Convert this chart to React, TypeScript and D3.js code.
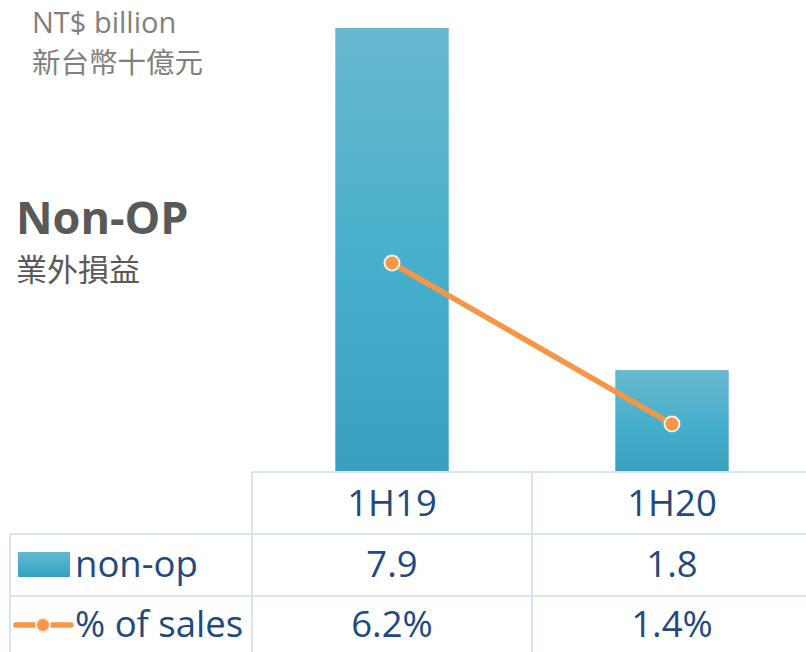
import React from "react";
import * as d3 from "d3";

const categories = ["1H19", "1H20"];
const nonOpValues = [7.9, 1.8];
const pctValues = [6.2, 1.4];
const nonOpLabels = ["7.9", "1.8"];
const pctLabels = ["6.2%", "1.4%"];
const seriesNames = ["non-op", "% of sales"];

const W = 806;
const H = 652;
const baseY = 471;

export default function App() {
  const x = d3.scaleBand<string>().domain(categories).range([252, 812]).padding(0);
  const barW = x.bandwidth() * 0.405;
  const yBar = d3.scaleLinear().domain([0, 7.9]).range([baseY, 28]);
  const yPct = d3.scaleLinear().domain([0, 6.2]).range([baseY, 263]);
  const cx = (c: string) => (x(c) as number) + x.bandwidth() / 2;

  const line = d3
    .line<number>()
    .x((_, i) => cx(categories[i]))
    .y((d) => yPct(d));

  const textColor = "#1f4a7f";
  const gridColor = "#d7e4f3";
  const tableFont = "'Open Sans', sans-serif";
  const orange = "#f79646";

  const rowTop = [472, 534, 596];
  const colLines = [252, 532];

  return (
    <div style={{ position: "absolute", left: 0, top: 0 }}>
      <svg width={W} height={H} style={{ display: "block" }}>
        <defs>
          <linearGradient id="barGrad" x1="0" y1="0" x2="0" y2="1">
            <stop offset="0%" stopColor="#68b7cf" />
            <stop offset="55%" stopColor="#46afcc" />
            <stop offset="100%" stopColor="#3a9fbe" />
          </linearGradient>
        </defs>
        <rect width={W} height={H} fill="#ffffff" />

        {/* titles */}
        <text x={32} y={32.5} fontFamily="'Open Sans', sans-serif" fontSize={29} fill="#808080">
          NT$ billion
        </text>
        <text x={32} y={73} fontFamily="'Noto Sans CJK TC', sans-serif" fontSize={28.5} fill="#808080">
          新台幣十億元
        </text>
        <text x={16} y={234} fontFamily="'Open Sans', sans-serif" fontWeight="bold" fontSize={45} fill="#595959">
          Non-OP
        </text>
        <text x={16} y={281} fontFamily="'Noto Sans CJK TC', sans-serif" fontSize={31} fill="#595959">
          業外損益
        </text>

        {/* bars */}
        {categories.map((c, i) => (
          <rect
            key={c}
            x={cx(c) - barW / 2}
            y={yBar(nonOpValues[i])}
            width={barW}
            height={baseY - yBar(nonOpValues[i])}
            fill="url(#barGrad)"
          />
        ))}

        {/* line */}
        <path d={line(pctValues) || ""} fill="none" stroke={orange} strokeWidth={5.5} />
        {pctValues.map((v, i) => (
          <circle
            key={i}
            cx={cx(categories[i])}
            cy={yPct(v)}
            r={7.5}
            fill={orange}
            stroke="#f3efe4"
            strokeWidth={2}
          />
        ))}

        {/* table grid */}
        <line x1={252} x2={W} y1={rowTop[0]} y2={rowTop[0]} stroke={gridColor} strokeWidth={2} />
        <line x1={9} x2={W} y1={rowTop[1]} y2={rowTop[1]} stroke={gridColor} strokeWidth={2} />
        <line x1={9} x2={W} y1={rowTop[2]} y2={rowTop[2]} stroke={gridColor} strokeWidth={2} />
        <line x1={10} x2={10} y1={rowTop[1]} y2={H} stroke={gridColor} strokeWidth={2} />
        {colLines.map((cxl) => (
          <line key={cxl} x1={cxl} x2={cxl} y1={rowTop[0]} y2={H} stroke={gridColor} strokeWidth={2} />
        ))}

        {/* header */}
        {categories.map((c) => (
          <text key={c} x={cx(c)} y={516} textAnchor="middle" fontFamily={tableFont} fontSize={36.5} fill={textColor}>
            {c}
          </text>
        ))}
        {categories.map((c, i) => (
          <text key={c + "v"} x={cx(c)} y={577} textAnchor="middle" fontFamily={tableFont} fontSize={36.5} fill={textColor}>
            {nonOpLabels[i]}
          </text>
        ))}
        {categories.map((c, i) => (
          <text key={c + "p"} x={cx(c)} y={637} textAnchor="middle" fontFamily={tableFont} fontSize={36.5} fill={textColor}>
            {pctLabels[i]}
          </text>
        ))}

        {/* legend */}
        <rect x={18} y={552} width={52} height={25} fill="url(#barGrad)" />
        <text x={75} y={577} fontFamily={tableFont} fontSize={36.5} fill={textColor}>
          {seriesNames[0]}
        </text>
        <line x1={16} x2={71} y1={625} y2={625} stroke={orange} strokeWidth={5.5} strokeLinecap="round" />
        <circle cx={43} cy={625} r={7} fill={orange} stroke="#f3efe4" strokeWidth={2} />
        <text x={75} y={637} fontFamily={tableFont} fontSize={36.5} fill={textColor}>
          {seriesNames[1]}
        </text>
      </svg>
    </div>
  );
}
